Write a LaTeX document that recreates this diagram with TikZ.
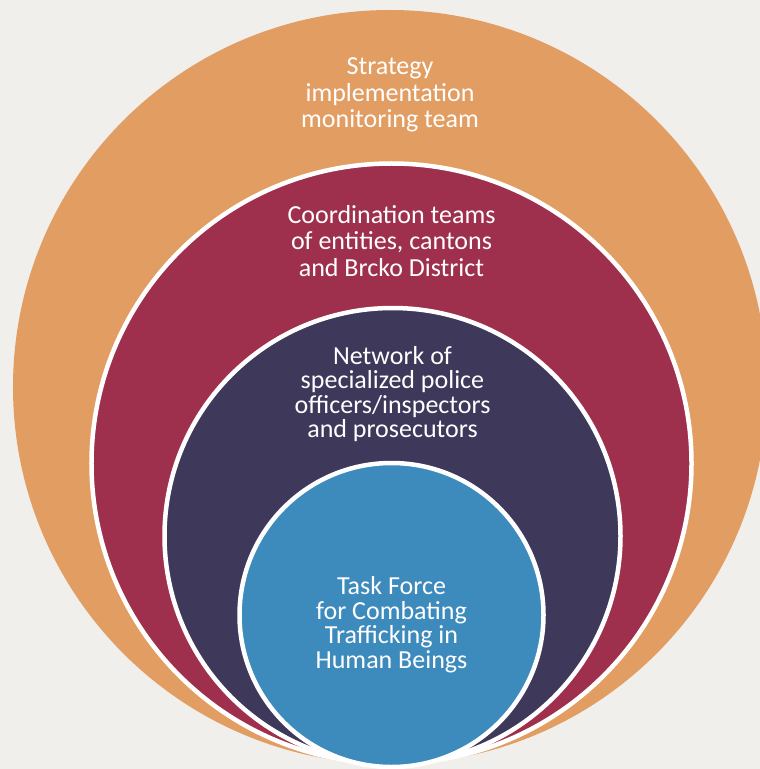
\documentclass[tikz,border=0pt]{standalone}
\usepackage{fontspec}
\setmainfont{Carlito}
\usetikzlibrary{positioning}
\definecolor{paper}{HTML}{F1EFEB}
\definecolor{strategycol}{HTML}{E29D63}
\definecolor{coordcol}{HTML}{9E304D}
\definecolor{networkcol}{HTML}{3E385B}
\definecolor{taskcol}{HTML}{3D8BBD}
\begin{document}
\begin{tikzpicture}[
  x=1bp, y=-1bp,
  ring/.style={circle, draw=white, line width=4.5bp, inner sep=0pt},
  lbl/.style={text=white, align=center, inner sep=0pt, font=\fontsize{26bp}{25.5bp}\selectfont},
  node distance=40bp
]
\fill[paper] (0,0) rectangle (760,769);
\useasboundingbox (0,0) rectangle (760,769);
\clip (0,0) rectangle (760,769);

% nested circles, all touching at the bottom
\node[ring, draw=none, fill=strategycol, minimum size=754bp] (strategy) at (390,387) {};
\node[ring, fill=coordcol, minimum size=600bp] (coord) at (391.5,463.5) {};
\node[ring, fill=networkcol, minimum size=456bp] (network) at (392.5,536) {};
\node[ring, fill=taskcol, minimum size=304bp] (task) at (391.5,615) {};

% labels
\node[lbl, font=\fontsize{26bp}{26.5bp}\selectfont, below=50bp of strategy.north] (strategytxt) {Strategy\\implementation\\monitoring team};
\node[lbl, font=\fontsize{26bp}{26.5bp}\selectfont, below=43.5bp of coord.north] (coordtxt) {Coordination teams\\of entities, cantons\\and Brcko District};
\node[lbl, font=\fontsize{26bp}{24.5bp}\selectfont, below=40bp of network.north] (networktxt) {Network of\\specialized police\\officers/inspectors\\and prosecutors};
\node[lbl, font=\fontsize{26bp}{24.5bp}\selectfont, below=115.5bp of task.north] (tasktxt) {Task Force\\for Combating\\Trafficking in\\Human Beings};
\end{tikzpicture}
\end{document}
